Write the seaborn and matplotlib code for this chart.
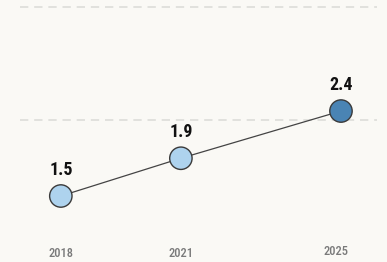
import matplotlib
matplotlib.use('Agg')
import matplotlib.pyplot as plt
import matplotlib.transforms as mtransforms
import seaborn as sns
import pandas as pd

years = [2018, 2021, 2025]
values = [1.5, 1.9, 2.4]
point_colors = ['#AED3EE', '#AED3EE', '#4A84B4']
grid_levels = [2.3, 3.5]

sns.set_theme(style='white')
plt.rcParams['font.family'] = ['Roboto Condensed', 'DejaVu Sans']

bg = '#FAF9F5'
df = pd.DataFrame({'year': years, 'value': values, 'c': [str(i) for i in range(len(years))]})

fig = plt.figure(figsize=(3.87, 2.62), dpi=100, facecolor=bg)
ax = fig.add_axes([20 / 387, 22 / 262, 357 / 387, 238 / 262])
ax.set_facecolor(bg)

for g in grid_levels:
    ax.axhline(g, color='#DDDDD9', lw=1.2, ls=(0, (5, 3.5)), zorder=0)

sns.lineplot(data=df, x='year', y='value', color='#444444', lw=0.9, ax=ax, zorder=2)
sns.scatterplot(data=df, x='year', y='value', hue='c', palette=point_colors, s=260,
                edgecolor='#3a3a3a', linewidth=1.0, legend=False, ax=ax, zorder=3)

for x, y in zip(years, values):
    ax.annotate(f'{y:.1f}', (x, y), xytext=(0, 15), textcoords='offset points',
                ha='center', va='baseline', fontsize=13, fontweight='bold', color='#111111')

ax.set_xlim(2016.98, 2025.9)
ax.set_ylim(1.034, 3.555)
ax.set_xticks(years)
ax.set_xticklabels([str(y) for y in years])
ax.set_yticks([])
ax.tick_params(axis='x', length=0, labelsize=9, colors='#7a7a7a', pad=5)
for lab in ax.get_xticklabels():
    lab.set_fontweight('medium')
last = ax.get_xticklabels()[-1]
last.set_transform(last.get_transform() + mtransforms.ScaledTranslation(-4.5 / 100, 2 / 100, fig.dpi_scale_trans))
ax.set_xlabel('')
ax.set_ylabel('')
for s in ax.spines.values():
    s.set_visible(False)

fig.savefig('out.png', dpi=100, facecolor=bg)
